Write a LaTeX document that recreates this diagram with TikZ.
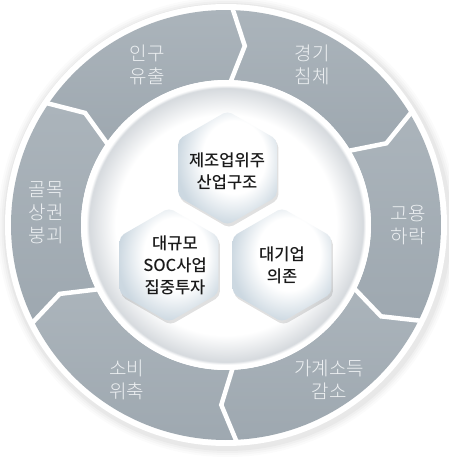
\documentclass[tikz,border=0pt]{standalone}
\usepackage{fontspec}
\newfontfamily\cjk{Noto Sans CJK KR}
\IfFontExistsTF{Noto Sans CJK KR Light}{\newfontfamily\cjklight{Noto Sans CJK KR Light}}{\newfontfamily\cjklight{Noto Sans CJK KR}}
\IfFontExistsTF{Noto Sans CJK KR Medium}{\newfontfamily\cjkmed{Noto Sans CJK KR Medium}}{\newfontfamily\cjkmed{Noto Sans CJK KR}}
\usetikzlibrary{calc,shapes.geometric,shadows}
\definecolor{segtop}{HTML}{ABB4BB}
\definecolor{segbot}{HTML}{9EA8B0}
\definecolor{ringtext}{HTML}{EEF1F3}
\definecolor{discgray}{HTML}{D6DADE}
\definecolor{hexedge}{HTML}{CCD8E1}
\definecolor{hextext}{HTML}{1A1A1A}
\pgfdeclareradialshading{discshade}{\pgfpoint{0bp}{0bp}}{color(0bp)=(white); color(19bp)=(white); color(23.6bp)=(discgray); color(24.1bp)=(white); color(25bp)=(white); color(50bp)=(white)}
\pgfdeclareradialshading{hexshade}{\pgfpoint{5bp}{7bp}}{color(0bp)=(white); color(16bp)=(white); color(28bp)=(hexedge); color(50bp)=(hexedge)}
\begin{document}
\begin{tikzpicture}[x=1pt,y=1pt,
  ringtxt/.style={font=\cjklight\fontsize{19}{23}\selectfont, text=ringtext, align=center, inner sep=0pt},
  hextxt/.style={font=\cjkmed\fontsize{16.5}{22}\selectfont, text=hextext, align=center, inner sep=0pt},
  hexbox/.style={regular polygon, regular polygon sides=6, shape border rotate=30, minimum size=114pt, inner sep=0pt, rounded corners=5pt, shade, shading=hexshade, drop shadow={shadow xshift=1.5pt, shadow yshift=-3pt, opacity=0.12, fill=black}},
  sep/.style={white, line width=4.5pt, line join=miter}]
\fill[white] (0,0) rectangle (449,459);
\useasboundingbox (0,0) rectangle (449,459);
\coordinate (C) at (226,234);
% outer soft shadow and white rim
\foreach \r/\o in {230/0.015, 228/0.02, 226/0.025, 224/0.03}{
  \fill[black, opacity=\o] ($(C)+(1.5,-2)$) circle[radius=\r pt];
}
\fill[white] (C) circle[radius=221pt];
% ring segments
\foreach \a/\b in {88.5/31.5, 31.5/-26, -26/-87, -87/-153, -153/-214, 146/88.5}{
  \pgfmathsetmacro\at{\a-4.5}
  \pgfmathsetmacro\bt{\b-4.5}
  \shade[top color=segtop, bottom color=segbot] ($(C)+(\a:215pt)$) arc[start angle=\a, end angle=\b, radius=215pt] -- ($(C)+(\bt:180pt)$) -- ($(C)+(\b:145pt)$) arc[start angle=\b, end angle=\a, radius=145pt] -- ($(C)+(\at:180pt)$) -- cycle;
}
\foreach \b in {88.5,31.5,-26,-87,-153,146}{
  \pgfmathsetmacro\bt{\b-4.5}
  \draw[sep] ($(C)+(\b:219pt)$) -- ($(C)+(\bt:180pt)$) -- ($(C)+(\b:141pt)$);
}
% inner disc
\shade[shading=discshade] (C) circle[radius=145pt];
% ring texts
\node[ringtxt] (t1) at (147,394) {인구\\유출};
\node[ringtxt] (t2) at (312,394) {경기\\침체};
\node[ringtxt] (t3) at (408,234) {고용\\하락};
\node[ringtxt] (t4) at (329,79) {가계소득\\감소};
\node[ringtxt] (t5) at (127,79) {소비\\위축};
\node[ringtxt] (t6) at (46,246) {골목\\상권\\붕괴};
% hexagons
\node[hexbox] (h1) at (227.5,291) {};
\node[hexbox] (h2) at (169,194) {};
\node[hexbox] (h3) at (282,194) {};
\node[hextxt] (x1) at (227,288) {제조업위주\\산업구조};
\node[hextxt] (x2) at (175,194) {대규모\\SOC사업\\집중투자};
\node[hextxt] (x3) at (282,194) {대기업\\의존};
\end{tikzpicture}
\end{document}
